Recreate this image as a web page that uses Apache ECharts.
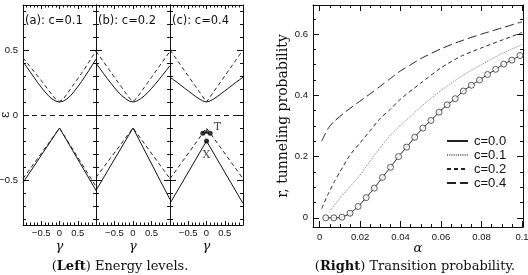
<!DOCTYPE html>
<html><head><meta charset="utf-8">
<script src="https://cdn.jsdelivr.net/npm/echarts@6/dist/echarts.min.js"></script>
<style>html,body{margin:0;padding:0;background:#fff}#c{width:528px;height:275px}</style>
</head><body><div id="c"></div>
<script>
// ---------------- data (left: energy levels) ----------------
const gamma = [-1,-0.9,-0.8,-0.7,-0.6,-0.5,-0.4,-0.3,-0.2,-0.1,0,0.1,0.2,0.3,0.4,0.5,0.6,0.7,0.8,0.9,1];
const gammaV = [-1, 0, 1];
const panelTitles = ['(a): c=0.1', '(b): c=0.2', '(c): c=0.4'];
const upperSolidA = [0.41,0.37,0.33,0.29,0.25,0.213,0.178,0.147,0.123,0.106,0.1,0.106,0.123,0.148,0.18,0.217,0.256,0.298,0.34,0.385,0.43];
const upperDashedA = [0.44,0.405,0.37,0.335,0.3,0.265,0.228,0.19,0.155,0.12,0.105,0.12,0.16,0.2,0.24,0.28,0.32,0.36,0.405,0.45,0.49];
const lowerSolidA = [-0.52,-0.1,-0.58];
const lowerDashedA = [-0.49,-0.1,-0.55];
const upperSolidB = [0.40,0.36,0.32,0.282,0.245,0.21,0.177,0.148,0.125,0.107,0.1,0.107,0.124,0.146,0.173,0.204,0.237,0.272,0.307,0.343,0.38];
const upperDashedB = [0.49,0.45,0.41,0.37,0.33,0.29,0.25,0.21,0.17,0.13,0.105,0.13,0.17,0.21,0.25,0.29,0.33,0.37,0.41,0.45,0.49];
const lowerSolidB = [-0.58,-0.1,-0.65];
const lowerDashedB = [-0.48,-0.1,-0.49];
const upperSolidC = [0.29,0.27,0.25,0.228,0.206,0.185,0.164,0.143,0.124,0.108,0.1,0.108,0.124,0.143,0.164,0.185,0.206,0.228,0.25,0.27,0.29];
const upperDashedC = [0.5,0.46,0.42,0.38,0.34,0.3,0.26,0.22,0.18,0.14,0.1,0.14,0.18,0.22,0.26,0.3,0.34,0.38,0.42,0.46,0.5];
const lowerSolidC = [-0.68,-0.2,-0.68];
const lowerDashedC = [-0.49,-0.1,-0.49];
const tGamma = [-0.1, 0.1];
const tEps = [-0.14, -0.14];
const xGamma = [0];
const xEps = [-0.2];
const markerLabels = ['T', 'X'];
const leftYMajor = [-0.5, 0, 0.5];
const leftYMajorLabels = ['\u22120.5', '0', '0.5'];
const leftYMinor = [-0.8,-0.7,-0.6,-0.5,-0.4,-0.3,-0.2,-0.1,0,0.1,0.2,0.3,0.4,0.5,0.6,0.7,0.8];
const leftXLabelVals = [-0.5, 0, 0.5];
const leftXLabels = ['\u22120.5', '0', '0.5'];

// ---------------- data (right: transition probability) ----------------
const alpha0 = [0.003,0.007,0.011,0.015,0.019,0.023,0.027,0.031,0.035,0.039,0.043,0.047,0.051,0.055,0.059,0.063,0.067,0.071,0.075,0.079,0.083,0.087,0.091,0.095,0.099];
const r0 = [0,0,0.002,0.015,0.037,0.066,0.097,0.132,0.165,0.2,0.231,0.263,0.293,0.318,0.345,0.369,0.389,0.414,0.433,0.45,0.468,0.485,0.502,0.515,0.53];
const alpha1 = [0.0046,0.006,0.01,0.015,0.02,0.025,0.03,0.035,0.04,0.045,0.05,0.055,0.06,0.07,0.08,0.09,0.1];
const r1 = [0.02,0.03,0.064,0.102,0.14,0.186,0.23,0.27,0.302,0.332,0.362,0.39,0.416,0.462,0.5,0.536,0.566];
const alpha2 = [0.001,0.004,0.007,0.01,0.015,0.02,0.025,0.03,0.035,0.04,0.05,0.06,0.07,0.08,0.09,0.1];
const r2 = [0.03,0.075,0.115,0.15,0.205,0.245,0.285,0.325,0.355,0.388,0.44,0.49,0.528,0.555,0.58,0.605];
const alpha4 = [0.001,0.004,0.007,0.012,0.018,0.025,0.03,0.035,0.04,0.045,0.05,0.06,0.07,0.08,0.09,0.1];
const r4 = [0.25,0.29,0.314,0.342,0.372,0.405,0.43,0.455,0.48,0.5,0.52,0.552,0.578,0.6,0.62,0.64];
const seriesNames = ['c=0.0','c=0.1','c=0.2','c=0.4'];
const rightYMajor = [0, 0.2, 0.4, 0.6];
const rightYLabels = ['0', '0.2', '0.4', '0.6'];
const rightYMinor = [0,0.05,0.1,0.15,0.2,0.25,0.3,0.35,0.4,0.45,0.5,0.55,0.6,0.65];
const rightXMajor = [0, 0.02, 0.04, 0.06, 0.08, 0.1];
const rightXLabels = ['0', '0.02', '0.04', '0.06', '0.08', '0.1'];
const rightXMinor = [0,0.005,0.01,0.015,0.02,0.025,0.03,0.035,0.04,0.045,0.05,0.055,0.06,0.065,0.07,0.075,0.08,0.085,0.09,0.095,0.1];

// ---------------- build ----------------
const zip = (xs, ys) => xs.map((x, i) => [x, ys[i]]);
const lab = (vals, labels) => v => { const i = vals.findIndex(t => Math.abs(t - v) < 1e-9); return i < 0 ? '' : labels[i]; };
const SANS = '"Liberation Sans", Arial, sans-serif';
const SANS2 = '"DejaVu Sans", sans-serif';
const SERIF = '"DejaVu Serif", serif';
const INK = '#111';
const AL = {show: true, onZero: false, lineStyle: {color: INK, width: 1}};
const NOLINE = {show: false, onZero: false};

const panels = [
  {left: 23, width: 73, uS: upperSolidA, uD: upperDashedA, lS: lowerSolidA, lD: lowerDashedA},
  {left: 96, width: 74, uS: upperSolidB, uD: upperDashedB, lS: lowerSolidB, lD: lowerDashedB},
  {left: 170, width: 73, uS: upperSolidC, uD: upperDashedC, lS: lowerSolidC, lD: lowerDashedC}
];

const grid = [], xAxis = [], yAxis = [], series = [], graphic = [];
const yMin = -0.846, yMax = 0.846;

panels.forEach((p, i) => {
  grid.push({left: p.left, top: 5, width: p.width, height: 220, show: false, outerBoundsMode: 'none'});
  const xBase = {gridIndex: i, type: 'value', min: -1, max: 1, interval: 0.5,
    axisLine: AL,
    axisTick: {show: true, inside: true, length: 4, lineStyle: {color: INK}},
    minorTick: {show: true, splitNumber: 5, length: 2.5, lineStyle: {color: INK}},
    splitLine: {show: false}, minorSplitLine: {show: false}};
  xAxis.push(Object.assign({}, xBase, {position: 'bottom',
    name: '\u03b3', nameLocation: 'middle', nameGap: 15, nameMoveOverlap: false,
    nameTextStyle: {fontFamily: SERIF, fontStyle: 'italic', fontSize: 13, color: INK},
    axisLabel: {show: true, customValues: leftXLabelVals, formatter: lab(leftXLabelVals, leftXLabels),
      margin: 3, fontFamily: SANS, fontSize: 9.5, color: INK}}));
  xAxis.push(Object.assign({}, xBase, {position: 'top', axisLabel: {show: false}}));
  const yBase = {gridIndex: i, type: 'value', min: yMin, max: yMax, splitLine: {show: false}};
  yAxis.push(Object.assign({}, yBase, {position: 'left', axisLine: AL,
    axisTick: {show: true, inside: true, length: 6, customValues: leftYMajor, lineStyle: {color: INK}},
    axisLabel: {show: i === 0, customValues: leftYMajor, formatter: lab(leftYMajor, leftYMajorLabels),
      margin: 5, fontFamily: SANS, fontSize: 9.5, color: INK},
    name: i === 0 ? '\u03b5' : '', nameLocation: 'middle', nameGap: 11, nameRotate: 90, nameMoveOverlap: false,
    nameTextStyle: {fontFamily: SERIF, fontSize: 12, color: INK}}));
  yAxis.push(Object.assign({}, yBase, {position: 'left', axisLine: NOLINE,
    axisTick: {show: true, inside: true, length: 3, customValues: leftYMinor, lineStyle: {color: INK}},
    axisLabel: {show: false}}));
  yAxis.push(Object.assign({}, yBase, {position: 'right', axisLine: AL,
    axisTick: {show: true, inside: true, length: 6, customValues: leftYMajor, lineStyle: {color: INK}},
    axisLabel: {show: false}}));
  yAxis.push(Object.assign({}, yBase, {position: 'right', axisLine: NOLINE,
    axisTick: {show: true, inside: true, length: 3, customValues: leftYMinor, lineStyle: {color: INK}},
    axisLabel: {show: false}}));

  const xi = 2 * i, yi = 4 * i;
  const common = {type: 'line', xAxisIndex: xi, yAxisIndex: yi, symbol: 'none', silent: true, animation: false, z: 3};
  series.push(Object.assign({}, common, {data: zip(gamma, p.uS), lineStyle: {color: INK, width: 1},
    markLine: {silent: true, symbol: ['none', 'none'], label: {show: false},
      lineStyle: {color: INK, width: 1, type: [5, 4]}, data: [{yAxis: 0}]}}));
  series.push(Object.assign({}, common, {data: zip(gamma, p.uD), lineStyle: {color: '#222', width: 1, type: [4, 3]}}));
  series.push(Object.assign({}, common, {data: zip(gammaV, p.lS), lineStyle: {color: INK, width: 1}}));
  series.push(Object.assign({}, common, {data: zip(gammaV, p.lD), lineStyle: {color: '#222', width: 1, type: [4, 3]}}));

  graphic.push({type: 'text', left: p.left + 2, top: 15,
    style: {text: panelTitles[i], fontFamily: SANS2, fontSize: 11.5, fill: INK}});
});

// T and X markers on panel (c)
series.push({type: 'scatter', xAxisIndex: 4, yAxisIndex: 8, symbol: 'circle', symbolSize: 5, silent: true, z: 5,
  itemStyle: {color: '#000'},
  data: zip(tGamma, tEps).map((v, k) => k === 1 ? {value: v, label: {show: true, formatter: markerLabels[0],
    position: [6, -9], fontFamily: SERIF, fontSize: 11, color: INK}} : {value: v})});
series.push({type: 'scatter', xAxisIndex: 4, yAxisIndex: 8, symbol: 'circle', symbolSize: 5, silent: true, z: 5,
  itemStyle: {color: '#000'},
  data: zip(xGamma, xEps).map(v => ({value: v, label: {show: true, formatter: markerLabels[1],
    position: 'bottom', distance: 6, fontFamily: SERIF, fontSize: 11, color: INK}}))});
series.push({type: 'scatter', xAxisIndex: 4, yAxisIndex: 8, symbol: 'triangle', symbolSize: [5, 5], silent: true, z: 5,
  itemStyle: {color: '#000'}, data: [[0, -0.125]]});

// ---------------- right chart ----------------
const G = 3;
grid.push({left: 313, top: 5, width: 210, height: 222, show: false, outerBoundsMode: 'none'});
const rxMin = -0.0033, rxMax = 0.1005, ryMin = -0.03, ryMax = 0.695;
const rxBase = {gridIndex: G, type: 'value', min: rxMin, max: rxMax, splitLine: {show: false}};
xAxis.push(Object.assign({}, rxBase, {position: 'bottom', axisLine: AL,
  axisTick: {show: true, inside: true, length: 6, customValues: rightXMajor, lineStyle: {color: INK}},
  axisLabel: {show: true, customValues: rightXMajor, formatter: lab(rightXMajor, rightXLabels),
    margin: 5, fontFamily: SANS, fontSize: 9.5, color: INK},
  name: '\u03b1', nameLocation: 'middle', nameGap: 15, nameMoveOverlap: false,
  nameTextStyle: {fontFamily: SERIF, fontStyle: 'italic', fontSize: 13, color: INK}}));   // 6
xAxis.push(Object.assign({}, rxBase, {position: 'bottom', axisLine: NOLINE,
  axisTick: {show: true, inside: true, length: 3, customValues: rightXMinor, lineStyle: {color: INK}},
  axisLabel: {show: false}}));   // 7
xAxis.push(Object.assign({}, rxBase, {position: 'top', axisLine: AL,
  axisTick: {show: true, inside: true, length: 6, customValues: rightXMajor, lineStyle: {color: INK}},
  axisLabel: {show: false}}));   // 8
xAxis.push(Object.assign({}, rxBase, {position: 'top', axisLine: NOLINE,
  axisTick: {show: true, inside: true, length: 3, customValues: rightXMinor, lineStyle: {color: INK}},
  axisLabel: {show: false}}));   // 9
const ryBase = {gridIndex: G, type: 'value', min: ryMin, max: ryMax, splitLine: {show: false}};
yAxis.push(Object.assign({}, ryBase, {position: 'left', axisLine: AL,
  axisTick: {show: true, inside: true, length: 6, customValues: rightYMajor, lineStyle: {color: INK}},
  axisLabel: {show: true, customValues: rightYMajor, formatter: lab(rightYMajor, rightYLabels),
    margin: 5, fontFamily: SANS, fontSize: 9.5, color: INK},
  name: 'r, tunneling probability', nameLocation: 'middle', nameGap: 23, nameRotate: 90, nameMoveOverlap: false,
  nameTextStyle: {fontFamily: SERIF, fontSize: 14, color: INK}}));   // 12
yAxis.push(Object.assign({}, ryBase, {position: 'left', axisLine: NOLINE,
  axisTick: {show: true, inside: true, length: 3, customValues: rightYMinor, lineStyle: {color: INK}},
  axisLabel: {show: false}}));   // 13
yAxis.push(Object.assign({}, ryBase, {position: 'right', axisLine: AL,
  axisTick: {show: true, inside: true, length: 6, customValues: rightYMajor, lineStyle: {color: INK}},
  axisLabel: {show: false}}));   // 14
yAxis.push(Object.assign({}, ryBase, {position: 'right', axisLine: NOLINE,
  axisTick: {show: true, inside: true, length: 3, customValues: rightYMinor, lineStyle: {color: INK}},
  axisLabel: {show: false}}));   // 15

const rc = {type: 'line', xAxisIndex: 6, yAxisIndex: 12, symbol: 'none', silent: true, animation: false, smooth: 0.25};
series.push(Object.assign({}, rc, {name: seriesNames[0], data: zip(alpha0, r0), lineStyle: {color: '#222', width: 1}, itemStyle: {color: '#222'}}));
series.push(Object.assign({}, rc, {name: seriesNames[1], data: zip(alpha1, r1), lineStyle: {color: '#777', width: 1, type: [1, 1.2]}, itemStyle: {color: '#777'}}));
series.push(Object.assign({}, rc, {name: seriesNames[2], data: zip(alpha2, r2), lineStyle: {color: '#222', width: 1, type: [4, 3]}, itemStyle: {color: '#222'}}));
series.push(Object.assign({}, rc, {name: seriesNames[3], data: zip(alpha4, r4), lineStyle: {color: '#222', width: 1, type: [9, 4]}, itemStyle: {color: '#222'}}));
series.push({type: 'scatter', name: 'markers', xAxisIndex: 6, yAxisIndex: 12, symbol: 'circle', symbolSize: 6,
  silent: true, z: 4, itemStyle: {color: '#fff', borderColor: '#333', borderWidth: 1}, data: zip(alpha0, r0)});

graphic.push({type: 'text', x: 120, y: 267,
  style: {text: '({b|Left}) Energy levels.', fontFamily: SERIF, fontSize: 13, fill: INK, align: 'center', verticalAlign: 'middle',
    rich: {b: {fontFamily: SERIF, fontSize: 13, fontWeight: 'bold', fill: INK}}}});
graphic.push({type: 'text', x: 415, y: 267,
  style: {text: '({b|Right}) Transition probability.', fontFamily: SERIF, fontSize: 13, fill: INK, align: 'center', verticalAlign: 'middle',
    rich: {b: {fontFamily: SERIF, fontSize: 13, fontWeight: 'bold', fill: INK}}}});

const chart = echarts.init(document.getElementById('c'), null, {renderer: 'canvas'});
chart.setOption({
  animation: false,
  backgroundColor: '#fff',
  grid, xAxis, yAxis, series, graphic,
  legend: {data: seriesNames, orient: 'vertical', left: 441, top: 129, itemWidth: 21, itemHeight: 14, itemGap: 0,
    itemStyle: {color: 'rgba(0,0,0,0)', borderColor: 'rgba(0,0,0,0)', borderWidth: 0},
    textStyle: {fontFamily: SANS, fontSize: 13, color: INK, padding: [0, 0, 0, 1], lineHeight: 14},
    selectedMode: false}
});
</script></body></html>
